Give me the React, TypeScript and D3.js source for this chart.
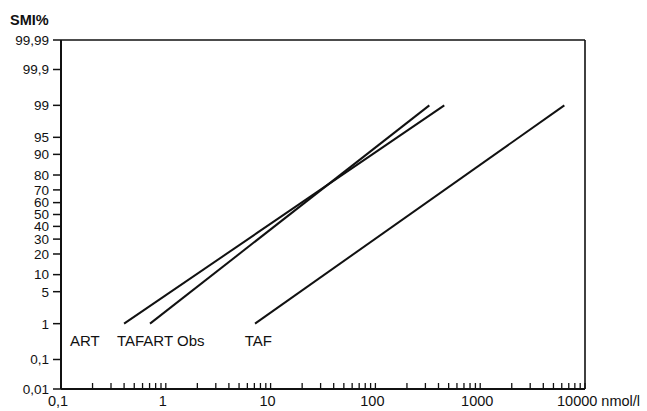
import React from "react";
import * as d3 from "d3";

// Data
const seriesNames = ["ART", "TAFART Obs", "TAF"];
const seriesLowConc = [0.4, 0.707, 7.1]; // nmol/l at 1 %
const seriesHighConc = [454, 327, 6350]; // nmol/l at 99 %
const seriesLowPct = [1, 1, 1];
const seriesHighPct = [99, 99, 99];
const labelConc = [0.1, 0.342, 5.66]; // label anchor positions (nmol/l)
const labelPct = [0.36, 0.36, 0.36];

const yTicks = [0.01, 0.1, 1, 5, 10, 20, 30, 40, 50, 60, 70, 80, 90, 95, 99, 99.9, 99.99];
const yTickLabels = ["0,01", "0,1", "1", "5", "10", "20", "30", "40", "50", "60", "70", "80", "90", "95", "99", "99,9", "99,99"];
const xMajor = [0.1, 1, 10, 100, 1000, 10000];
const xMajorLabels = ["0,1", "1", "10", "100", "1000", "10000"];

// inverse standard normal CDF (Acklam)
function probit(p: number): number {
  const a = [-3.969683028665376e1, 2.209460984245205e2, -2.759285104469687e2, 1.38357751867269e2, -3.066479806614716e1, 2.506628277459239];
  const b = [-5.447609879822406e1, 1.615858368580409e2, -1.556989798598866e2, 6.680131188771972e1, -1.328068155288572e1];
  const c = [-7.784894002430293e-3, -3.223964580411365e-1, -2.400758277161838, -2.549732539343734, 4.374664141464968, 2.938163982698783];
  const d = [7.784695709041462e-3, 3.224671290700398e-1, 2.445134137142996, 3.754408661907416];
  const pl = 0.02425;
  if (p < pl) {
    const q = Math.sqrt(-2 * Math.log(p));
    return (((((c[0] * q + c[1]) * q + c[2]) * q + c[3]) * q + c[4]) * q + c[5]) / ((((d[0] * q + d[1]) * q + d[2]) * q + d[3]) * q + 1);
  }
  if (p > 1 - pl) {
    const q = Math.sqrt(-2 * Math.log(1 - p));
    return -(((((c[0] * q + c[1]) * q + c[2]) * q + c[3]) * q + c[4]) * q + c[5]) / ((((d[0] * q + d[1]) * q + d[2]) * q + d[3]) * q + 1);
  }
  const q = p - 0.5;
  const r = q * q;
  return ((((((a[0] * r + a[1]) * r + a[2]) * r + a[3]) * r + a[4]) * r + a[5]) * q) / (((((b[0] * r + b[1]) * r + b[2]) * r + b[3]) * r + b[4]) * r + 1);
}

const W = 647;
const H = 411;
const left = 61;
const right = 585;
const top = 40;
const bottom = 389;

const zTop = probit(0.9999);
const zScale = d3.scaleLinear().domain([-zTop, zTop]).range([bottom, top]);
const yPos = (pct: number) => zScale(probit(pct / 100));
const x = d3.scaleLog().domain([0.1, 10000]).range([left, right]);

const minorTicks: number[] = [];
for (let e = -1; e < 4; e++) {
  for (let m = 2; m <= 9; m++) minorTicks.push(m * Math.pow(10, e));
}

const font = "Liberation Sans, Arial, Helvetica, sans-serif";

export default function App() {
  const line = d3
    .line<[number, number]>()
    .x((dd) => x(dd[0]))
    .y((dd) => yPos(dd[1]));
  return (
    <svg width={W} height={H} style={{ position: "absolute", left: 0, top: 0, background: "#fff" }} fontFamily={font}>
      <rect x={0} y={0} width={W} height={H} fill="#fff" />
      <text x={10} y={25} fontSize={14.5} fontWeight="bold" fill="#111">SMI%</text>
      {/* frame */}
      <line x1={left} y1={top} x2={right} y2={top} stroke="#111" strokeWidth={1.3} />
      <line x1={right} y1={top} x2={right} y2={bottom} stroke="#111" strokeWidth={1.6} />
      <line x1={left} y1={top} x2={left} y2={bottom} stroke="#111" strokeWidth={2} />
      <line x1={left} y1={bottom} x2={right} y2={bottom} stroke="#111" strokeWidth={2} />
      {/* y ticks */}
      {yTicks.map((t, i) => (
        <g key={"y" + i}>
          <line x1={left - 8} x2={left} y1={yPos(t)} y2={yPos(t)} stroke="#111" strokeWidth={1.5} />
          <text x={left - 12} y={yPos(t)} dy="0.36em" textAnchor="end" fontSize={13.5} fill="#111">
            {yTickLabels[i]}
          </text>
        </g>
      ))}
      {/* x ticks */}
      {[...minorTicks, ...xMajor.slice(1)].map((t, i) => (
        <line key={"xt" + i} x1={x(t)} x2={x(t)} y1={bottom} y2={bottom - 6} stroke="#111" strokeWidth={1.3} />
      ))}
      {xMajor.map((t, i) =>
        i === xMajor.length - 1 ? (
          <text key={"xl" + i} x={x(t) - 28} y={406} textAnchor="start" fontSize={14.5} fill="#111">
            {xMajorLabels[i] + " nmol/l"}
          </text>
        ) : (
          <text key={"xl" + i} x={x(t) - 3} y={406} textAnchor="middle" fontSize={14.5} fill="#111">
            {xMajorLabels[i]}
          </text>
        )
      )}
      {/* series */}
      {seriesNames.map((n, i) => (
        <path
          key={"s" + i}
          d={line([
            [seriesLowConc[i], seriesLowPct[i]],
            [seriesHighConc[i], seriesHighPct[i]],
          ]) || ""}
          fill="none"
          stroke="#111"
          strokeWidth={2}
        />
      ))}
      {seriesNames.map((n, i) => (
        <text key={"lab" + i} x={x(labelConc[i])} y={yPos(labelPct[i])} dy="0.36em" fontSize={15} fill="#111"
          textAnchor="start" dx={i === 0 ? 9 : 0}>
          {n}
        </text>
      ))}
    </svg>
  );
}
